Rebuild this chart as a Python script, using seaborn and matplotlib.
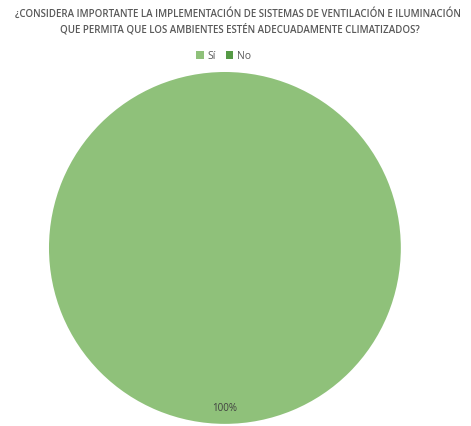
import matplotlib
matplotlib.use("Agg")
import matplotlib.pyplot as plt
import seaborn as sns
from matplotlib.patches import Patch

categories = ["Sí", "No"]
values = [100, 0]
colors = ["#8FC17A", "#559A45"]
title_lines = ["¿CONSIDERA IMPORTANTE LA IMPLEMENTACIÓN DE SISTEMAS DE VENTILACIÓN E ILUMINACIÓN",
               "QUE PERMITA QUE LOS AMBIENTES ESTÉN ADECUADAMENTE CLIMATIZADOS?"]

sns.set_theme(style="white")
plt.rcParams['font.family'] = ['Open Sans', 'DejaVu Sans']

fig = plt.figure(figsize=(4.71, 4.26), dpi=100)
ax = fig.add_axes([0.104, 0.005, 0.747, 0.826])

nz_vals = [v for v in values if v > 0]
nz_cols = [c for v, c in zip(values, colors) if v > 0]
wedges, texts, autotexts = ax.pie(nz_vals, colors=nz_cols, startangle=90, counterclock=False,
                                  autopct=lambda p: f"{p:.0f}%", pctdistance=0.91,
                                  textprops=dict(fontsize=7, color="#404040"),
                                  wedgeprops=dict(linewidth=0))
ax.set_aspect('auto')
ax.set_xlim(-1, 1)
ax.set_ylim(-1, 1)
ax.axis('off')

fig.text(0.505, 0.966, title_lines[0], ha='center', va='center', fontsize=7.05,
         color="#595959", fontweight='semibold')
fig.text(0.51, 0.931, title_lines[1], ha='center', va='center', fontsize=7.05,
         color="#595959", fontweight='semibold')

handles = [Patch(facecolor=c, edgecolor='none') for c in colors]
fig.legend(handles, categories, loc='center', bbox_to_anchor=(0.475, 0.868), ncol=2,
           frameon=False, fontsize=7.5, handlelength=0.7, handleheight=0.7,
           handletextpad=0.4, columnspacing=0.9, labelcolor="#595959")

fig.savefig("out.png", dpi=100, facecolor="white")
